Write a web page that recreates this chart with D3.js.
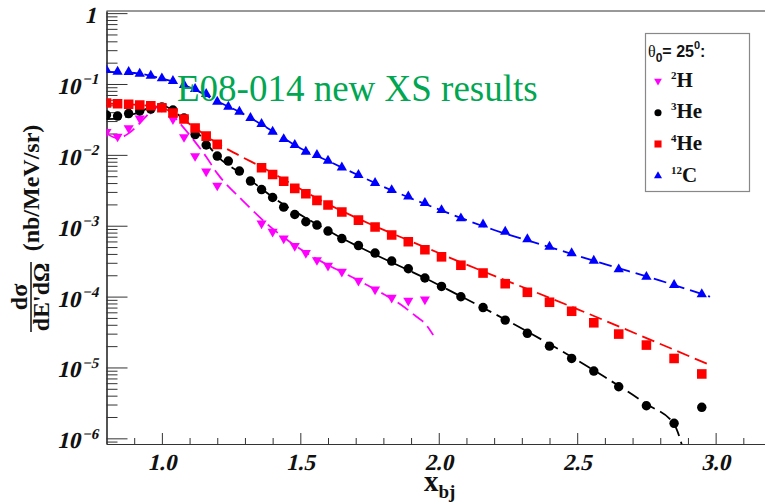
<!DOCTYPE html>
<html><head><meta charset="utf-8">
<script src="https://cdn.jsdelivr.net/npm/d3@7"></script>
<style>body{margin:0;background:#fff;} svg{display:block;}</style>
</head><body>
<svg id="chart" width="765" height="502"></svg>
<script>
// ---------------- data ----------------
const xH2 = [0.80,0.84,0.88,0.92,0.96,1.00,1.04,1.08,1.12,1.16,1.20,1.36,1.40,1.44,1.48,1.52,1.56,1.60,1.65,1.71,1.77,1.83,1.89,1.95];
const yH2 = [0.0210,0.01813,0.0239,0.0326,0.0443,0.0473,0.0320,0.01784,0.00962,0.00582,0.00369,0.00108,0.000822,0.000664,0.000517,0.000414,0.000328,0.000274,0.000224,0.000168,0.0001265,0.0000963,0.0000876,0.0000914];

const xHe3 = [0.80,0.84,0.88,0.92,0.96,1.00,1.04,1.08,1.12,1.16,1.20,1.24,1.28,1.32,1.36,1.40,1.44,1.48,1.52,1.56,1.60,1.65,1.71,1.77,1.83,1.89,1.95,2.01,2.08,2.16,2.24,2.32,2.40,2.48,2.56,2.65,2.75,2.85,2.95];
const yHe3 = [0.03648,0.03530,0.03829,0.04154,0.04431,0.04728,0.04291,0.03307,0.01935,0.01376,0.00962,0.00818,0.00591,0.00427,0.00324,0.00250,0.00183,0.00144,0.001138,0.001022,0.000841,0.000659,0.000525,0.000411,0.000317,0.000247,0.000183,0.000139,0.0000995,0.0000700,0.0000466,0.0000303,0.0000200,0.0000134,0.0000089,0.00000534,0.00000288,0.00000163,0.00000274];

const xHe4 = [0.80,0.84,0.88,0.92,0.96,1.00,1.04,1.08,1.12,1.16,1.20,1.36,1.40,1.44,1.48,1.52,1.56,1.60,1.65,1.71,1.77,1.83,1.89,1.95,2.01,2.08,2.16,2.24,2.32,2.40,2.48,2.56,2.65,2.75,2.85,2.95];
const yHe4 = [0.0538,0.0526,0.0518,0.0505,0.0492,0.0461,0.0389,0.0320,0.0239,0.0184,0.01407,0.00658,0.00528,0.00424,0.00337,0.00283,0.00228,0.00196,0.00156,0.00120,0.000958,0.000739,0.000594,0.000458,0.000364,0.000277,0.000215,0.000152,0.000115,0.0000832,0.0000621,0.0000427,0.0000296,0.0000207,0.0000134,0.0000081];

const xC12 = [0.80,0.84,0.88,0.92,0.96,1.00,1.04,1.08,1.12,1.16,1.20,1.24,1.28,1.32,1.36,1.40,1.44,1.48,1.52,1.56,1.60,1.65,1.71,1.77,1.83,1.89,1.95,2.01,2.08,2.16,2.24,2.32,2.40,2.48,2.56,2.65,2.75,2.85,2.95];
const yC12 = [0.157,0.149,0.1475,0.1395,0.131,0.120,0.110,0.0968,0.0850,0.0722,0.0562,0.0478,0.0406,0.0331,0.0272,0.0212,0.0167,0.01376,0.01107,0.00995,0.00826,0.00662,0.00519,0.00400,0.00318,0.00258,0.00209,0.00166,0.00127,0.00104,0.000822,0.000643,0.000506,0.000408,0.000321,0.000242,0.000190,0.000146,0.000108];

// model curves (dashed)
const mxH2 = [0.80,0.84,0.88,0.92,0.96,0.99,1.02,1.05,1.11,1.16,1.20,1.29,1.39,1.50,1.60,1.70,1.80,1.865,1.92,1.95,1.98];
const myH2 = [0.0201,0.0171,0.0201,0.0279,0.0406,0.0478,0.0453,0.0328,0.0171,0.00941,0.00548,0.00230,0.00098,0.000469,0.000279,0.000177,0.0001086,0.0000760,0.0000519,0.0000419,0.0000287];

const mxHe3 = [0.80,0.848,0.896,0.957,0.987,1.017,1.053,1.089,1.137,1.20,1.30,1.40,1.60,2.00,2.40,2.60,2.75,2.85,2.885];
const myHe3 = [0.0320,0.0328,0.0374,0.0463,0.0505,0.0478,0.0385,0.0293,0.0190,0.00962,0.00502,0.00254,0.000855,0.000146,0.0000214,0.00000732,0.00000304,0.00000158,0.00000065];

const mxHe4 = [0.80,0.90,0.96,1.00,1.04,1.08,1.12,1.16,1.20,1.28,1.36,1.60,2.00,2.50,2.98];
const myHe4 = [0.053,0.051,0.049,0.0461,0.039,0.031,0.0240,0.0186,0.0145,0.00978,0.00673,0.00202,0.000412,0.0000667,0.0000108];

const mxC12 = [0.80,0.90,1.00,1.10,1.20,1.30,1.40,1.50,1.60,1.80,2.00,2.20,2.40,2.60,2.80,2.98];
const myC12 = [0.148,0.143,0.119,0.090,0.057,0.0368,0.0215,0.0124,0.00820,0.00355,0.00170,0.000870,0.000500,0.000287,0.000168,0.0000995];

const xTickValues = [1.0,1.5,2.0,2.5,3.0];
const xTickLabels = ["1.0","1.5","2.0","2.5","3.0"];
const yExponents = [0,-1,-2,-3,-4,-5,-6];
const legendMass = ["2","3","4","12"];
const legendElem = ["H","He","He","C"];
const titleText = "E08-014 new XS results";

// ---------------- drawing ----------------
const SERIF = "'Liberation Serif', 'Times New Roman', serif";
const svg = d3.select("#chart");
const x = d3.scaleLinear().domain([0.8, 3.2]).range([106.5, 771]);
const y = d3.scaleLog().domain([Math.pow(10,-6.08), Math.pow(10,0.03)]).range([444, 11]);
const axisColor = "#333";

svg.append("rect").attr("width",765).attr("height",502).attr("fill","#fff");

// frame top line
svg.append("line").attr("x1",x(0.8)).attr("x2",x(3.2)).attr("y1",y.range()[1]).attr("y2",y.range()[1])
  .attr("stroke",axisColor).attr("stroke-width",1);

// y axis majors + minors
const yMajors = yExponents.map(e => Math.pow(10,e));
const yMinors = [];
for (let e=-7; e<=0; e++) for (let k=2;k<=9;k++){ const v=k*Math.pow(10,e); if (v>=y.domain()[0] && v<=y.domain()[1]) yMinors.push(v); }
svg.append("g").attr("transform",`translate(${x(0.8)},0)`)
  .call(d3.axisLeft(y).tickValues(yMajors).tickSize(-21).tickSizeOuter(0).tickFormat(""));
svg.append("g").attr("transform",`translate(${x(0.8)},0)`)
  .call(d3.axisLeft(y).tickValues(yMinors).tickSize(-11).tickSizeOuter(0).tickFormat(""));
// x axis
const xMinors = d3.range(9,32).map(d=>d/10).filter(v => !xTickValues.some(t=>Math.abs(t-v)<1e-6));
svg.append("g").attr("transform",`translate(0,${y.range()[0]})`)
  .call(d3.axisBottom(x).tickValues(xTickValues).tickSize(-11).tickSizeOuter(0).tickFormat(""));
svg.append("g").attr("transform",`translate(0,${y.range()[0]})`)
  .call(d3.axisBottom(x).tickValues(xMinors).tickSize(-6).tickSizeOuter(0).tickFormat(""));
svg.selectAll(".domain").attr("stroke",axisColor).attr("stroke-width",1.2);
svg.selectAll(".tick line").attr("stroke",axisColor).attr("stroke-width",1);

// y tick labels (bold, slanted)
yExponents.forEach(e => {
  const g = svg.append("g").attr("transform",`translate(96,${y(Math.pow(10,e))+10}) skewX(-13)`);
  const t = g.append("text").attr("x",0).attr("y",0).attr("text-anchor","end")
    .attr("font-family",SERIF).attr("font-weight","bold").attr("font-size",23).attr("fill","#111");
  if (e===0) { t.text("1"); }
  else {
    t.append("tspan").text("10");
    t.append("tspan").attr("font-size",15).attr("dy",-9.5).text("\u2212"+(-e));
  }
});
// x tick labels
xTickValues.forEach((v,i) => {
  svg.append("g").attr("transform",`translate(${x(v)},470) skewX(-13)`)
    .append("text").attr("x",0).attr("y",0).attr("text-anchor","middle")
    .attr("font-family",SERIF).attr("font-weight","bold").attr("font-size",23).attr("fill","#111")
    .text(xTickLabels[i]);
});

// axis titles
const xt = svg.append("text").attr("x",424).attr("y",491).attr("font-family",SERIF)
  .attr("font-weight","bold").attr("fill","#111");
xt.append("tspan").attr("font-size",29).text("x");
xt.append("tspan").attr("font-size",19).attr("dy",7).text("bj");

svg.append("text").attr("transform","translate(39,188) rotate(-90)").attr("text-anchor","middle")
  .attr("font-family",SERIF).attr("font-weight","bold").attr("font-size",24)
  .attr("fill","#111").text("(nb/MeV/sr)");
const frac = svg.append("g").attr("transform","translate(31,297) rotate(-90)")
  .attr("font-family",SERIF).attr("font-weight","bold").attr("font-size",24).attr("fill","#111");
frac.append("text").attr("x",0).attr("y",-4).attr("text-anchor","middle").text("d\u03c3");
frac.append("line").attr("x1",-35).attr("x2",35).attr("y1",0).attr("y2",0).attr("stroke","#111").attr("stroke-width",1.5);
frac.append("text").attr("x",0).attr("y",18).attr("text-anchor","middle").text("dE'd\u03a9");

// clip
svg.append("clipPath").attr("id","plotclip").append("rect")
  .attr("x",x(0.8)).attr("y",y.range()[1]).attr("width",x(3.2)-x(0.8)).attr("height",y.range()[0]-y.range()[1]);

const series = [
  {xs:xH2, ys:yH2, mx:mxH2, my:myH2, color:"#ff00ff", sym:d3.symbolTriangle, size:44, rot:180},
  {xs:xHe3, ys:yHe3, mx:mxHe3, my:myHe3, color:"#000000", sym:d3.symbolCircle, size:70, rot:0},
  {xs:xHe4, ys:yHe4, mx:mxHe4, my:myHe4, color:"#ff0000", sym:d3.symbolSquare, size:92, rot:0},
  {xs:xC12, ys:yC12, mx:mxC12, my:myC12, color:"#0000ff", sym:d3.symbolTriangle, size:46, rot:0}
];
const line = d3.line().x(d=>x(d[0])).y(d=>y(d[1])).curve(d3.curveMonotoneX);
const lines = svg.append("g").attr("clip-path","url(#plotclip)");
series.forEach(s => {
  lines.append("path").datum(s.mx.map((v,i)=>[v,s.my[i]])).attr("d",line)
    .attr("fill","none").attr("stroke",s.color).attr("stroke-width",1.8).attr("stroke-dasharray","13,6");
});
const marks = svg.append("g").attr("clip-path","url(#plotclip)");
series.forEach(s => {
  marks.append("g").selectAll("path").data(s.xs.map((v,i)=>[v,s.ys[i]])).join("path")
    .attr("d", d3.symbol().type(s.sym).size(s.size))
    .attr("transform", d=>`translate(${x(d[0])},${y(d[1])}) rotate(${s.rot})`)
    .attr("fill", s.color);
});

// title
svg.append("text").attr("x",177).attr("y",101).attr("font-family",SERIF)
  .attr("font-size",37).attr("fill","#00a651").text(titleText);

// legend
const lg = svg.append("g");
lg.append("rect").attr("x",645.5).attr("y",33.5).attr("width",104).attr("height",158)
  .attr("fill","#fff").attr("stroke","#888").attr("stroke-width",1.2);
const hdr = lg.append("text").attr("x",648).attr("y",57).attr("font-family","'Liberation Sans', Arial, sans-serif")
  .attr("font-weight","bold").attr("font-size",16).attr("fill","#111");
hdr.append("tspan").attr("font-family",SERIF).attr("font-weight","normal").text("\u03b8");
hdr.append("tspan").attr("font-size",12).attr("dy",5).text("0");
hdr.append("tspan").attr("dy",-5).text("= 25");
hdr.append("tspan").attr("font-size",11).attr("dy",-8).text("0");
hdr.append("tspan").attr("dy",8).text(":");
const legY = [81, 112.7, 144, 176];
const legSize = [26, 40, 50, 28];
series.forEach((s,i) => {
  lg.append("path").attr("d", d3.symbol().type(s.sym).size(legSize[i])())
    .attr("transform",`translate(658,${legY[i]}) rotate(${s.rot})`).attr("fill", s.color);
  const t = lg.append("text").attr("x",671).attr("y",legY[i]+5.7)
    .attr("font-family",SERIF).attr("font-weight","bold").attr("fill","#111");
  t.append("tspan").attr("font-size",11).attr("dy",-8).text(legendMass[i]);
  t.append("tspan").attr("font-size",21).attr("dy",8).text(legendElem[i]);
});
</script>
</body></html>
